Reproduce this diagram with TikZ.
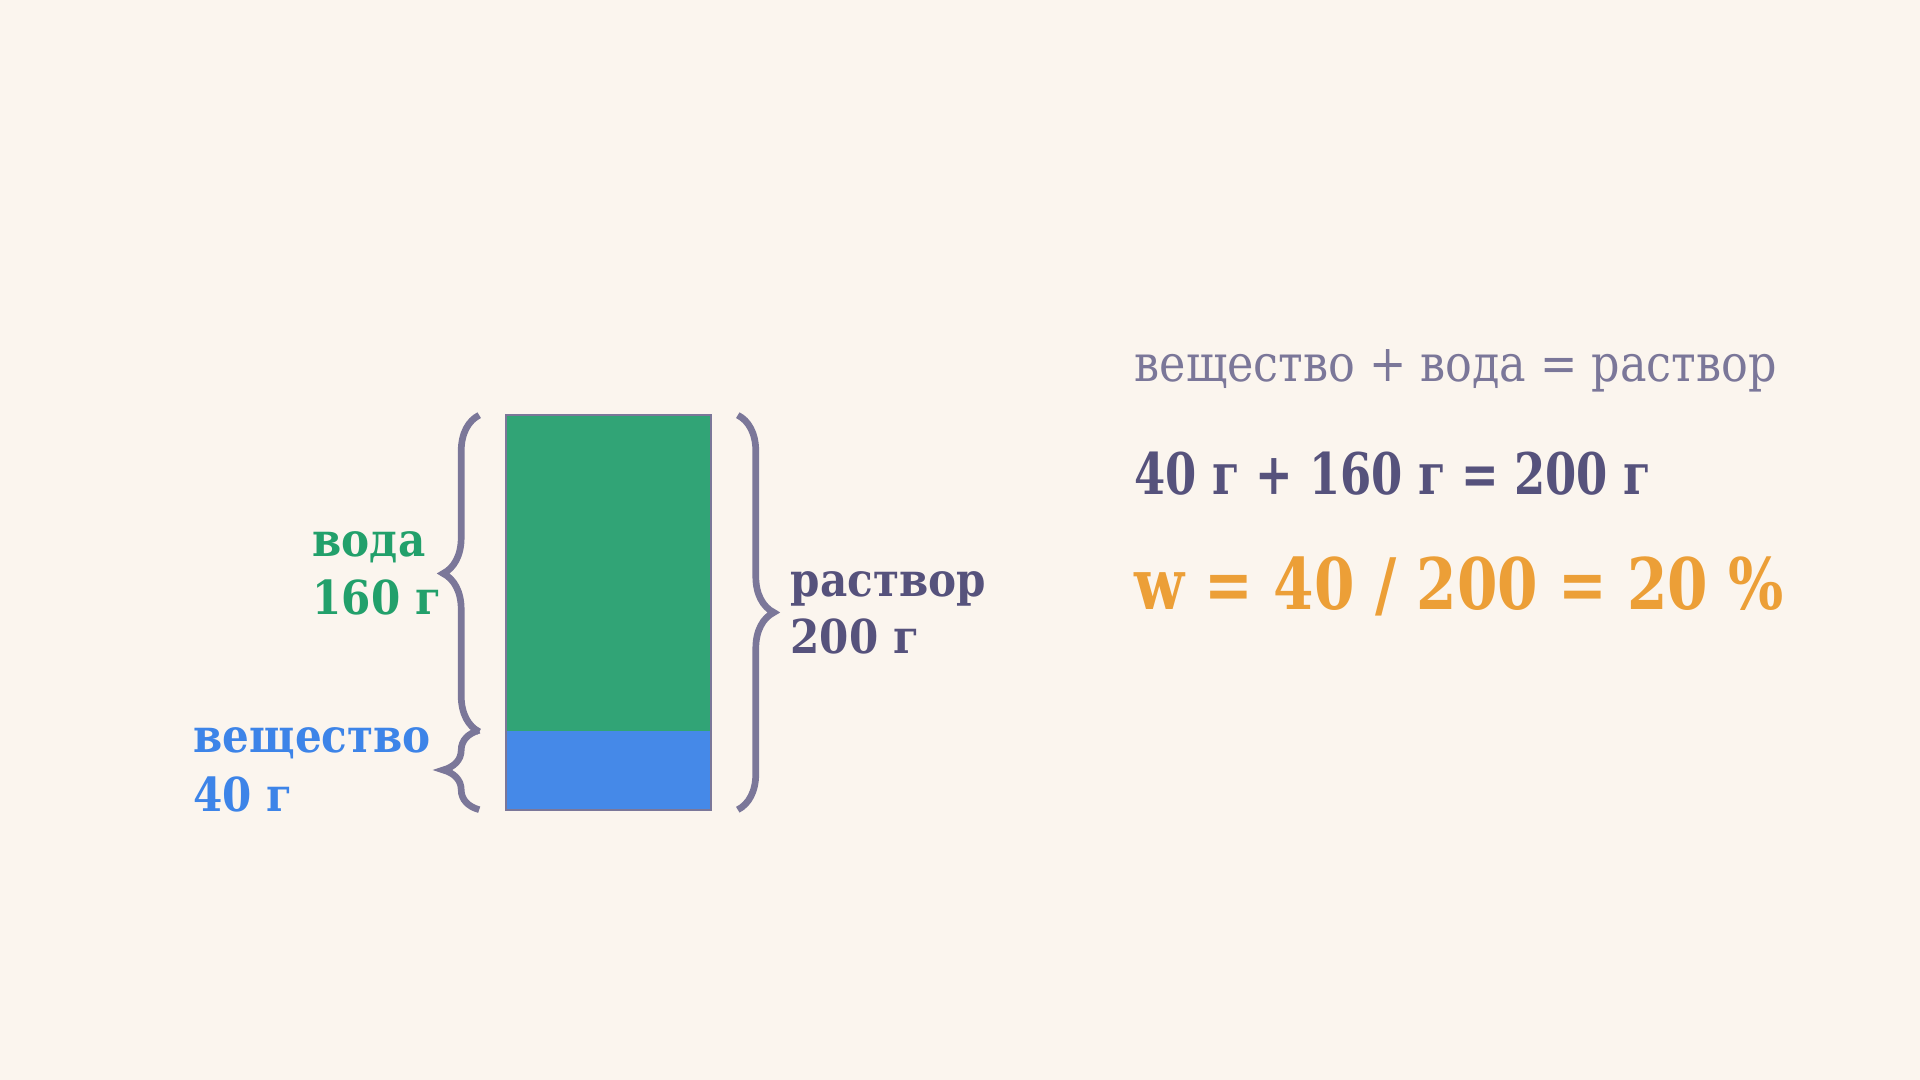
\documentclass[tikz,border=0pt]{standalone}
\usepackage{fontspec}
\setmainfont{DejaVu Serif Condensed}
\usetikzlibrary{decorations.pathreplacing,positioning}

\definecolor{paper}{HTML}{FBF5EE}
\definecolor{watergreen}{HTML}{31A476}
\definecolor{soluteblue}{HTML}{4589E8}
\definecolor{edgegray}{HTML}{7B7799}
\definecolor{textgreen}{HTML}{22A06B}
\definecolor{textblue}{HTML}{3D84E8}
\definecolor{inkdark}{HTML}{56527C}
\definecolor{inklight}{HTML}{7B7799}
\definecolor{inkorange}{HTML}{EC9F37}

\tikzset{
  barpart/.style={inner sep=0pt, minimum width=2.03cm},
  curly/.style={draw=edgegray, line width=1.9pt, decorate,
    decoration={brace, amplitude=0.36cm}},
  lbl/.style={anchor=base west, inner sep=0pt,
    font=\bfseries\fontsize{13.3}{16}\selectfont},
  eq/.style={anchor=base west, inner sep=0pt},
}

\begin{document}
\begin{tikzpicture}[x=0.01cm,y=-0.01cm]
  \useasboundingbox[fill=paper] (0,0) rectangle (1920,1080);

  % the bar
  \node (water)  [barpart, fill=watergreen, minimum height=3.15cm] at (608.5,573.5) {};
  \node (solute) [barpart, fill=soluteblue, minimum height=0.78cm] at (608.5,770) {};
  \draw[edgegray, line width=0.6pt] (water.north west) rectangle (solute.south east);

  % braces
  \draw[curly] ([xshift=-0.27cm]water.south west) -- ([xshift=-0.27cm]water.north west);
  \draw[curly] ([xshift=-0.27cm]solute.south west) -- ([xshift=-0.27cm]solute.north west);
  \draw[curly] ([xshift=0.27cm]water.north east) -- ([xshift=0.27cm]solute.south east);

  % labels
  \node (waterlbl)   [lbl, text=textgreen] at (312,557) {вода};
  \node (watermass)  [lbl, text=textgreen] at (312,615) {160 г};
  \node (solutelbl)  [lbl, text=textblue]  at (193,753) {вещество};
  \node (solutemass) [lbl, text=textblue]  at (193,812) {40 г};
  \node (mixlbl)     [lbl, text=inkdark]   at (790,597) {раствор};
  \node (mixmass)    [lbl, text=inkdark]   at (790,654) {200 г};

  % equations
  \node (eqwords) [eq, text=inklight,
    font=\fontsize{14.5}{17}\selectfont\addfontfeatures{FakeStretch=0.97}]
    at (1134,382) {вещество + вода = раствор};
  \node (eqmass)  [eq, text=inkdark,
    font=\bfseries\fontsize{16.3}{19}\selectfont\addfontfeatures{FakeStretch=0.87}]
    at (1134,495) {40 г + 160 г = 200 г};
  \node (eqfrac)  [eq, text=inkorange,
    font=\bfseries\fontsize{20.2}{23}\selectfont\addfontfeatures{FakeStretch=0.91}]
    at (1134,610) {w = 40 / 200 = 20 \%};
\end{tikzpicture}
\end{document}
